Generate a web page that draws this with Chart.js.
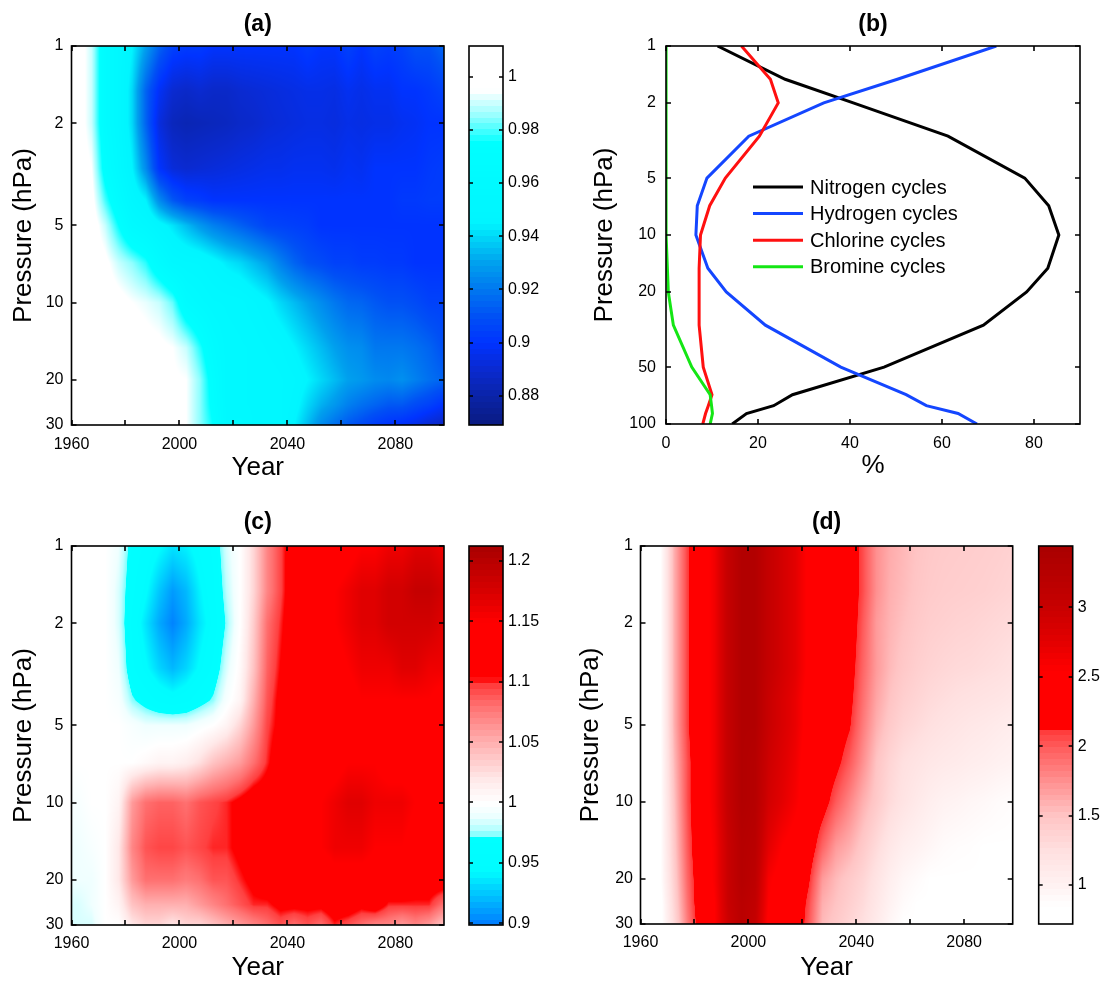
<!DOCTYPE html>
<html>
<head>
<meta charset="utf-8">
<title>Stratospheric ozone panels</title>
<script src="https://cdn.jsdelivr.net/npm/chart.js@4.4.1/dist/chart.umd.min.js"></script>
<style>
  html, body { margin: 0; background: #fff; }
  #fig { position: relative; width: 1104px; height: 981px; overflow: hidden; }
  #fig canvas { position: absolute; }
</style>
</head>
<body>
<div id="fig">
  <canvas id="panelA" width="560" height="490" style="left:0;top:0"></canvas>
  <canvas id="panelB" width="544" height="490" style="left:560px;top:0"></canvas>
  <canvas id="panelC" width="560" height="491" style="left:0;top:490px"></canvas>
  <canvas id="panelD" width="544" height="491" style="left:560px;top:490px"></canvas>
</div>
<script>
// ---- shared axes ----
const yearEdges = [1960, 1965, 1970, 1975, 1980, 1985, 1990, 1995, 2000, 2005, 2010, 2015, 2020, 2025,
                   2030, 2035, 2040, 2045, 2050, 2055, 2060, 2065, 2070, 2075, 2080, 2085, 2090, 2095, 2100];
const pressureLevels = [1, 1.5, 2, 3, 4, 5, 7, 10, 15, 20, 25, 30];
const yearTicks = [1960, 1980, 2000, 2020, 2040, 2060, 2080];
const yearLabels = [1960, 2000, 2040, 2080];
const pressureTicks = [1, 2, 5, 10, 20, 30];

// ---- panel (a): one column per 5-year block, values top (1 hPa) to bottom (30 hPa) ----
const gridA = [
  [1, 1, 1, 1, 1, 1, 1, 1, 1, 1, 1, 1],                                                    // 1960
  [0.99, 0.99, 0.99, 0.995, 0.998, 1, 1, 1, 1, 1, 1, 1],                                    // 1965
  [0.965, 0.965, 0.965, 0.97, 0.98, 0.99, 0.997, 1, 1, 1, 1, 1],                            // 1970
  [0.955, 0.955, 0.955, 0.958, 0.965, 0.975, 0.99, 0.998, 1, 1, 1, 1],                      // 1975
  [0.945, 0.94, 0.94, 0.945, 0.952, 0.96, 0.985, 0.995, 1, 1, 1, 1],                        // 1980
  [0.93, 0.915, 0.915, 0.925, 0.945, 0.955, 0.978, 0.993, 0.998, 1, 1, 1],                  // 1985
  [0.915, 0.898, 0.893, 0.9, 0.925, 0.948, 0.965, 0.99, 0.997, 0.998, 0.998, 1],            // 1990
  [0.905, 0.89, 0.885, 0.892, 0.912, 0.942, 0.955, 0.982, 0.995, 0.996, 0.997, 0.997],      // 1995
  [0.903, 0.888, 0.883, 0.89, 0.905, 0.935, 0.953, 0.965, 0.99, 0.995, 0.995, 0.995],       // 2000
  [0.903, 0.89, 0.884, 0.891, 0.903, 0.928, 0.952, 0.96, 0.978, 0.985, 0.985, 0.985],       // 2005
  [0.9, 0.888, 0.885, 0.892, 0.9, 0.922, 0.948, 0.956, 0.965, 0.97, 0.972, 0.975],          // 2010
  [0.9, 0.888, 0.886, 0.893, 0.9, 0.918, 0.943, 0.955, 0.957, 0.957, 0.957, 0.958],         // 2015
  [0.9, 0.89, 0.888, 0.894, 0.9, 0.914, 0.94, 0.954, 0.956, 0.956, 0.956, 0.96],            // 2020
  [0.9, 0.891, 0.889, 0.895, 0.9, 0.91, 0.935, 0.95, 0.955, 0.955, 0.955, 0.955],           // 2025
  [0.9, 0.892, 0.891, 0.896, 0.9, 0.906, 0.93, 0.946, 0.952, 0.955, 0.955, 0.955],          // 2030
  [0.9, 0.893, 0.892, 0.896, 0.9, 0.905, 0.922, 0.94, 0.95, 0.953, 0.953, 0.953],           // 2035
  [0.9, 0.894, 0.893, 0.897, 0.9, 0.904, 0.915, 0.935, 0.945, 0.95, 0.948, 0.945],          // 2040
  [0.903, 0.895, 0.894, 0.897, 0.9, 0.903, 0.91, 0.93, 0.94, 0.945, 0.94, 0.935],           // 2045
  [0.9, 0.895, 0.894, 0.897, 0.9, 0.9, 0.908, 0.925, 0.935, 0.94, 0.933, 0.925],            // 2050
  [0.9, 0.894, 0.893, 0.896, 0.9, 0.9, 0.905, 0.92, 0.93, 0.935, 0.928, 0.918],             // 2055
  [0.905, 0.897, 0.895, 0.898, 0.9, 0.9, 0.905, 0.916, 0.926, 0.93, 0.922, 0.912],          // 2060
  [0.9, 0.895, 0.894, 0.897, 0.9, 0.9, 0.903, 0.915, 0.925, 0.928, 0.918, 0.908],           // 2065
  [0.905, 0.897, 0.895, 0.9, 0.9, 0.9, 0.903, 0.912, 0.92, 0.925, 0.915, 0.903],            // 2070
  [0.903, 0.897, 0.895, 0.9, 0.9, 0.9, 0.902, 0.91, 0.92, 0.924, 0.912, 0.9],               // 2075
  [0.905, 0.9, 0.897, 0.9, 0.902, 0.9, 0.902, 0.91, 0.92, 0.926, 0.912, 0.898],             // 2080
  [0.91, 0.9, 0.898, 0.9, 0.902, 0.9, 0.9, 0.908, 0.918, 0.922, 0.908, 0.895],              // 2085
  [0.91, 0.902, 0.9, 0.902, 0.903, 0.9, 0.9, 0.905, 0.915, 0.918, 0.905, 0.89],             // 2090
  [0.915, 0.905, 0.9, 0.903, 0.903, 0.9, 0.9, 0.905, 0.91, 0.915, 0.9, 0.887]               // 2095
];
const cbTicksA = [0.88, 0.9, 0.92, 0.94, 0.96, 0.98, 1];

// ---- panel (b): share of each catalytic cycle (%) by pressure ----
const pressureB = [1, 1.5, 2, 3, 5, 7, 10, 15, 20, 30, 50, 70, 80, 88, 100];
const nitrogen = [11.2, 25.9, 40.7, 61.3, 78, 83.2, 85.4, 83, 78.4, 69, 47.4, 27.5, 23.4, 17.5, 14.4];
const hydrogen = [71.8, 50.3, 34.3, 18, 8.9, 6.8, 6.5, 9.1, 13.1, 21.6, 38, 52.2, 56.6, 63.5, 67.6];
const chlorine = [16.4, 22.7, 24.4, 20.3, 12.9, 9.5, 7.5, 7.2, 7.2, 7.2, 8.1, 10, 9.2, 8.6, 8.0];
const bromine = [0, 0, 0, 0, 0, 0, 0.1, 0.3, 0.5, 1.6, 5.6, 9.6, 9.9, 10.1, 9.6];
const percentTicks = [0, 20, 40, 60, 80];
const pressureTicksB = [1, 2, 5, 10, 20, 50, 100];

// ---- panel (c) ----
const gridC = [
  [1, 1, 1, 1, 1, 1, 1, 0.995, 0.99, 0.99, 0.985, 0.985],                 // 1960
  [1, 1, 1, 1, 1, 1, 1, 1, 0.995, 0.99, 0.99, 0.985],                     // 1965
  [1, 1, 1, 1, 1, 1, 1, 1, 1, 1, 1, 1],                                   // 1970
  [0.99, 0.985, 0.985, 0.99, 0.995, 1, 1, 1.01, 1.02, 1.02, 1.01, 1.0],   // 1975
  [0.965, 0.96, 0.955, 0.96, 0.975, 0.995, 1.0, 1.06, 1.07, 1.06, 1.04, 1.02],      // 1980
  [0.955, 0.945, 0.935, 0.945, 0.965, 0.99, 1.005, 1.08, 1.09, 1.08, 1.05, 1.03],   // 1985
  [0.945, 0.925, 0.915, 0.93, 0.955, 0.99, 1.01, 1.085, 1.095, 1.08, 1.05, 1.03],   // 1990
  [0.935, 0.91, 0.902, 0.92, 0.95, 0.99, 1.01, 1.085, 1.095, 1.08, 1.05, 1.02],     // 1995
  [0.94, 0.92, 0.915, 0.93, 0.955, 0.99, 1.015, 1.08, 1.09, 1.075, 1.05, 1.03],     // 2000
  [0.95, 0.94, 0.935, 0.945, 0.965, 0.995, 1.025, 1.09, 1.095, 1.08, 1.06, 1.03],   // 2005
  [0.96, 0.955, 0.95, 0.96, 0.975, 1.0, 1.04, 1.095, 1.1, 1.09, 1.07, 1.04],        // 2010
  [0.985, 0.98, 0.975, 0.985, 0.995, 1.01, 1.05, 1.1, 1.1, 1.09, 1.08, 1.05],       // 2015
  [1.0, 1.0, 1.0, 1.005, 1.01, 1.03, 1.06, 1.11, 1.11, 1.1, 1.09, 1.06],            // 2020
  [1.03, 1.03, 1.035, 1.04, 1.05, 1.06, 1.08, 1.12, 1.12, 1.11, 1.1, 1.07],         // 2025
  [1.07, 1.07, 1.08, 1.085, 1.09, 1.095, 1.1, 1.12, 1.12, 1.12, 1.1, 1.08],         // 2030
  [1.095, 1.095, 1.1, 1.105, 1.11, 1.11, 1.12, 1.13, 1.13, 1.12, 1.11, 1.09],       // 2035
  [1.12, 1.12, 1.12, 1.12, 1.12, 1.12, 1.13, 1.13, 1.13, 1.12, 1.11, 1.08],         // 2040
  [1.12, 1.13, 1.13, 1.13, 1.12, 1.12, 1.13, 1.14, 1.14, 1.13, 1.11, 1.09],         // 2045
  [1.13, 1.14, 1.14, 1.13, 1.13, 1.13, 1.14, 1.15, 1.15, 1.13, 1.11, 1.08],         // 2050
  [1.13, 1.15, 1.15, 1.14, 1.13, 1.13, 1.14, 1.16, 1.16, 1.14, 1.12, 1.1],          // 2055
  [1.14, 1.16, 1.16, 1.15, 1.14, 1.14, 1.15, 1.17, 1.16, 1.14, 1.12, 1.09],         // 2060
  [1.15, 1.17, 1.17, 1.16, 1.15, 1.14, 1.15, 1.17, 1.16, 1.14, 1.11, 1.08],         // 2065
  [1.15, 1.17, 1.17, 1.16, 1.15, 1.14, 1.15, 1.16, 1.15, 1.14, 1.12, 1.07],         // 2070
  [1.16, 1.18, 1.18, 1.16, 1.15, 1.14, 1.14, 1.16, 1.15, 1.13, 1.1, 1.07],          // 2075
  [1.16, 1.18, 1.18, 1.17, 1.15, 1.14, 1.14, 1.16, 1.15, 1.13, 1.1, 1.06],          // 2080
  [1.17, 1.19, 1.18, 1.17, 1.15, 1.14, 1.14, 1.15, 1.14, 1.12, 1.1, 1.07],          // 2085
  [1.17, 1.19, 1.18, 1.16, 1.15, 1.13, 1.13, 1.15, 1.14, 1.12, 1.1, 1.06],          // 2090
  [1.16, 1.18, 1.17, 1.16, 1.14, 1.13, 1.13, 1.14, 1.13, 1.12, 1.08, 1.04]          // 2095
];
const cbTicksC = [0.9, 0.95, 1, 1.05, 1.1, 1.15, 1.2];

// ---- panel (d) ----
const gridD = [
  [0.8, 0.8, 0.8, 0.8, 0.8, 0.8, 0.8, 0.8, 0.8, 0.8, 0.8, 0.8],                   // 1960
  [0.85, 0.85, 0.85, 0.85, 0.85, 0.85, 0.85, 0.85, 0.85, 0.85, 0.8, 0.8],         // 1965
  [1.6, 1.6, 1.6, 1.6, 1.6, 1.6, 1.55, 1.5, 1.45, 1.4, 1.35, 1.3],                // 1970
  [2.1, 2.1, 2.1, 2.1, 2.1, 2.1, 2.05, 2.05, 2.0, 1.95, 1.9, 1.85],               // 1975
  [2.4, 2.4, 2.4, 2.4, 2.4, 2.4, 2.4, 2.4, 2.4, 2.35, 2.35, 2.3],                  // 1980
  [2.65, 2.65, 2.65, 2.65, 2.65, 2.65, 2.65, 2.65, 2.6, 2.6, 2.55, 2.55],         // 1985
  [3.05, 3.05, 3.05, 3.05, 3.05, 3.05, 3.05, 3.05, 3.0, 3.0, 3.0, 2.95],          // 1990
  [3.3, 3.3, 3.3, 3.3, 3.3, 3.3, 3.3, 3.3, 3.25, 3.25, 3.2, 3.2],                 // 1995
  [3.3, 3.3, 3.3, 3.3, 3.3, 3.3, 3.25, 3.25, 3.2, 3.15, 3.1, 3.05],               // 2000
  [3.05, 3.05, 3.05, 3.05, 3.0, 3.0, 2.95, 2.9, 2.75, 2.6, 2.55, 2.5],            // 2005
  [2.9, 2.9, 2.9, 2.9, 2.85, 2.85, 2.8, 2.75, 2.55, 2.45, 2.4, 2.4],              // 2010
  [2.75, 2.75, 2.75, 2.75, 2.7, 2.7, 2.65, 2.6, 2.45, 2.4, 2.35, 2.35],           // 2015
  [2.5, 2.5, 2.5, 2.5, 2.45, 2.45, 2.4, 2.4, 2.3, 2.15, 2.05, 2.0],               // 2020
  [2.4, 2.4, 2.4, 2.4, 2.4, 2.4, 2.35, 2.25, 1.95, 1.7, 1.6, 1.55],               // 2025
  [2.35, 2.35, 2.35, 2.35, 2.35, 2.3, 2.2, 2.0, 1.7, 1.55, 1.5, 1.45],            // 2030
  [2.3, 2.3, 2.3, 2.25, 2.2, 2.15, 2.0, 1.8, 1.6, 1.45, 1.4, 1.35],               // 2035
  [2.05, 2.05, 2.0, 1.95, 1.9, 1.85, 1.75, 1.6, 1.45, 1.35, 1.3, 1.25],           // 2040
  [1.75, 1.75, 1.7, 1.7, 1.65, 1.6, 1.5, 1.45, 1.3, 1.2, 1.15, 1.1],              // 2045
  [1.62, 1.6, 1.58, 1.55, 1.5, 1.45, 1.35, 1.3, 1.15, 1.05, 1.0, 0.95],           // 2050
  [1.56, 1.54, 1.51, 1.46, 1.4, 1.35, 1.25, 1.2, 1.05, 0.95, 0.9, 0.85],          // 2055
  [1.5, 1.48, 1.45, 1.4, 1.35, 1.3, 1.2, 1.12, 1.0, 0.9, 0.85, 0.85],             // 2060
  [1.46, 1.44, 1.41, 1.36, 1.3, 1.25, 1.15, 1.05, 0.95, 0.85, 0.85, 0.85],        // 2065
  [1.44, 1.42, 1.39, 1.33, 1.27, 1.21, 1.12, 1.0, 0.9, 0.85, 0.85, 0.85],         // 2070
  [1.43, 1.41, 1.37, 1.31, 1.24, 1.18, 1.1, 0.98, 0.88, 0.85, 0.85, 0.85],        // 2075
  [1.42, 1.4, 1.36, 1.3, 1.22, 1.15, 1.07, 0.95, 0.87, 0.85, 0.85, 0.85],         // 2080
  [1.41, 1.39, 1.34, 1.28, 1.2, 1.13, 1.05, 0.93, 0.85, 0.85, 0.85, 0.85],        // 2085
  [1.4, 1.37, 1.32, 1.26, 1.18, 1.1, 1.02, 0.9, 0.85, 0.85, 0.85, 0.85],          // 2090
  [1.38, 1.35, 1.3, 1.23, 1.15, 1.07, 1.0, 0.88, 0.85, 0.85, 0.85, 0.85]          // 2095
];
const cbTicksD = [1, 1.5, 2, 2.5, 3];

// ---- colour maps (value, colour) ----
const blueMap = [
  [0.869, '#0a1a80'], [0.878, '#0a22a0'], [0.89, '#0a2ad0'], [0.9, '#0033ff'], [0.91, '#0050f5'],
  [0.92, '#0078f0'], [0.93, '#00a0ee'], [0.94, '#00d8f8'], [0.945, '#00f5ff'], [0.975, '#00ffff'],
  [0.985, '#90ffff'], [0.995, '#ffffff'], [1.012, '#ffffff']
];
const coolWarmMap = [
  [0.8985, '#0078ff'], [0.905, '#008cff'], [0.92, '#00b8ff'], [0.935, '#00e4ff'], [0.943, '#00fcff'],
  [0.972, '#00ffff'], [0.973, '#80ffff'], [0.98, '#c0ffff'], [0.99, '#f0ffff'], [1.0, '#ffffff'],
  [1.02, '#ffe8e8'], [1.05, '#ffb0b0'], [1.08, '#ff7070'], [1.097, '#ff4040'], [1.104, '#ff0000'],
  [1.15, '#ff0000'], [1.175, '#d80000'], [1.2, '#b80000'], [1.2125, '#a80000']
];
const redMap = [
  [0.72, '#ffffff'], [0.85, '#ffffff'], [1.0, '#fff2f2'], [1.25, '#ffe0e0'], [1.5, '#ffc4c4'],
  [1.75, '#ff9090'], [2.0, '#ff5a5a'], [2.12, '#ff3838'], [2.13, '#ff0000'], [2.55, '#ff0000'],
  [2.76, '#e20000'], [3.0, '#c80000'], [3.44, '#a80000']
];

function hexToRgb(h) {
  const n = parseInt(h.slice(1), 16);
  return [(n >> 16) & 255, (n >> 8) & 255, n & 255];
}

function rgbAt(stops, v) {
  if (v <= stops[0][0]) return hexToRgb(stops[0][1]);
  for (let i = 1; i < stops.length; i++) {
    if (v <= stops[i][0]) {
      const [v0, c0] = stops[i - 1];
      const [v1, c1] = stops[i];
      const t = (v - v0) / (v1 - v0);
      const a = hexToRgb(c0), b = hexToRgb(c1);
      return a.map((x, k) => Math.round(x + (b[k] - x) * t));
    }
  }
  return hexToRgb(stops[stops.length - 1][1]);
}

function colorAt(stops, v) {
  return 'rgb(' + rgbAt(stops, v).join(',') + ')';
}

// index of the lower node and the fraction towards the next one
function bracket(nodes, v) {
  const last = nodes.length - 1;
  if (v <= nodes[0]) return [0, 0];
  if (v >= nodes[last]) return [last - 1, 1];
  let k = 0;
  while (nodes[k + 1] < v) k++;
  return [k, (v - nodes[k]) / (nodes[k + 1] - nodes[k])];
}

Chart.defaults.font.family = '"Liberation Sans", Arial, Helvetica, sans-serif';
Chart.defaults.font.size = 16;
Chart.defaults.color = '#000';
Chart.defaults.animation = false;

const FONT = '"Liberation Sans", Arial, Helvetica, sans-serif';
const titleFont = { size: 26, lineHeight: 1 };
const noGrid = { display: false, drawTicks: false };

// shaded year x pressure field; every pixel is mapped back to data space with the chart's scales
function heatLayer(grid, stops) {
  const yearNodes = yearEdges.slice(0, -1).map((e, i) => (e + yearEdges[i + 1]) / 2);
  const logNodes = pressureLevels.map(p => Math.log10(p));
  return {
    id: 'heat',
    beforeDatasetsDraw(chart) {
      const { ctx, chartArea: a, scales: { x, y } } = chart;
      const left = Math.round(a.left), top = Math.round(a.top);
      const w = Math.round(a.right) - left, h = Math.round(a.bottom) - top;
      const off = document.createElement('canvas');
      off.width = w; off.height = h;
      const octx = off.getContext('2d');
      const img = octx.createImageData(w, h);
      const cols = [];
      for (let i = 0; i < w; i++) cols.push(bracket(yearNodes, x.getValueForPixel(left + i + 0.5)));
      for (let r = 0; r < h; r++) {
        const [j, ty] = bracket(logNodes, Math.log10(y.getValueForPixel(top + r + 0.5)));
        for (let i = 0; i < w; i++) {
          const [k, tx] = cols[i];
          const c0 = grid[k], c1 = grid[k + 1];
          const upper = c0[j] + (c1[j] - c0[j]) * tx;
          const lower = c0[j + 1] + (c1[j + 1] - c0[j + 1]) * tx;
          const rgb = rgbAt(stops, upper + (lower - upper) * ty);
          const o = (r * w + i) * 4;
          img.data[o] = rgb[0]; img.data[o + 1] = rgb[1]; img.data[o + 2] = rgb[2]; img.data[o + 3] = 255;
        }
      }
      octx.putImageData(img, 0, 0);
      ctx.drawImage(off, left, top);
    }
  };
}

// box, inward ticks, panel letter and optional colour bar
function frameLayer(o) {
  return {
    id: 'frame',
    afterDraw(chart) {
      const { ctx, chartArea: a, scales } = chart;
      const tl = 5;
      ctx.save();
      ctx.strokeStyle = '#000';
      ctx.lineWidth = 1.6;
      ctx.beginPath();
      scales.x.ticks.forEach(t => {
        const px = Math.round(scales.x.getPixelForValue(t.value));
        ctx.moveTo(px, a.bottom); ctx.lineTo(px, a.bottom - tl);
        ctx.moveTo(px, a.top); ctx.lineTo(px, a.top + tl);
      });
      scales.y.ticks.forEach(t => {
        const py = Math.round(scales.y.getPixelForValue(t.value));
        ctx.moveTo(a.left, py); ctx.lineTo(a.left + tl, py);
        ctx.moveTo(a.right, py); ctx.lineTo(a.right - tl, py);
      });
      ctx.stroke();
      ctx.strokeRect(a.left, a.top, a.right - a.left, a.bottom - a.top);

      if (o.bar) {
        const cb = scales.cb;
        const bx = a.right + o.bar.gap, bw = o.bar.width;
        const steps = 64, dv = (cb.max - cb.min) / steps;
        for (let i = 0; i < steps; i++) {
          const v0 = cb.min + i * dv, v1 = v0 + dv;
          const yTop = Math.floor(cb.getPixelForValue(v1));
          const yBot = Math.ceil(cb.getPixelForValue(v0));
          ctx.fillStyle = colorAt(o.bar.stops, (v0 + v1) / 2);
          ctx.fillRect(bx, yTop, bw, yBot - yTop);
        }
        ctx.strokeRect(bx, cb.top, bw, cb.bottom - cb.top);
        ctx.beginPath();
        cb.ticks.forEach(t => {
          const py = Math.round(cb.getPixelForValue(t.value));
          ctx.moveTo(bx, py); ctx.lineTo(bx + 4, py);
          ctx.moveTo(bx + bw, py); ctx.lineTo(bx + bw - 4, py);
        });
        ctx.stroke();
      }

      ctx.fillStyle = '#000';
      ctx.font = 'bold 23px ' + FONT;
      ctx.textAlign = 'center';
      ctx.textBaseline = 'middle';
      ctx.fillText(o.title, (a.left + a.right) / 2, o.titleY);
      ctx.restore();
    }
  };
}

// vertical scales: fixed width, and no label overhang pushed into the layout
function fixWidth(width) {
  return s => { s.width = width; s.paddingTop = 0; s.paddingBottom = 0; };
}

function heatmap(id, o) {
  return new Chart(document.getElementById(id), {
    type: 'scatter',
    data: { datasets: [] },
    options: {
      responsive: false,
      layout: { padding: { top: o.top, left: 0, right: 0, bottom: 0 } },
      plugins: { legend: { display: false }, tooltip: { enabled: false } },
      scales: {
        x: {
          type: 'linear', min: 1960, max: 2098,
          grid: noGrid, border: { display: false },
          afterBuildTicks: s => { s.ticks = yearTicks.map(v => ({ value: v })); },
          afterFit: s => { s.height = o.xHeight; },
          ticks: { autoSkip: false, maxRotation: 0, padding: o.xPad,
                   callback: v => yearLabels.includes(v) ? String(v) : '' },
          title: { display: true, text: 'Year', font: titleFont, padding: { top: 0, bottom: o.xTitlePad } }
        },
        y: {
          type: 'logarithmic', position: 'left', reverse: true, min: 1, max: 30,
          grid: noGrid, border: { display: false },
          afterBuildTicks: s => { s.ticks = pressureTicks.map(v => ({ value: v })); },
          afterFit: fixWidth(o.yWidth),
          ticks: { autoSkip: false, padding: o.yPad, callback: v => String(v) },
          title: { display: true, text: 'Pressure (hPa)', font: titleFont, padding: { top: o.yTitlePad, bottom: 0 } }
        },
        cb: {
          type: 'linear', position: 'right', min: o.cbMin, max: o.cbMax,
          grid: noGrid, border: { display: false },
          afterBuildTicks: s => { s.ticks = o.cbTicks.map(v => ({ value: v })); },
          afterFit: fixWidth(o.cbWidth),
          ticks: { autoSkip: false, padding: o.cbPad, callback: v => String(v) }
        }
      }
    },
    plugins: [heatLayer(o.grid, o.stops),
              frameLayer({ title: o.title, titleY: o.titleY, bar: { gap: o.barGap, width: 34, stops: o.stops } })]
  });
}

heatmap('panelA', {
  grid: gridA, stops: blueMap, title: '(a)', titleY: 25,
  top: 46, xHeight: 65, xPad: 10, xTitlePad: 9, yWidth: 71.5, yPad: 8, yTitlePad: 11,
  cbMin: 0.869, cbMax: 1.0115, cbTicks: cbTicksA, cbWidth: 116, cbPad: 64, barGap: 25
});

heatmap('panelC', {
  grid: gridC, stops: coolWarmMap, title: '(c)', titleY: 33,
  top: 56, xHeight: 56, xPad: 9, xTitlePad: 0, yWidth: 71.5, yPad: 8, yTitlePad: 11,
  cbMin: 0.8985, cbMax: 1.2125, cbTicks: cbTicksC, cbWidth: 116, cbPad: 64, barGap: 25
});

heatmap('panelD', {
  grid: gridD, stops: redMap, title: '(d)', titleY: 33,
  top: 56, xHeight: 57, xPad: 9, xTitlePad: 0, yWidth: 80.5, yPad: 7.5, yTitlePad: 18,
  cbMin: 0.72, cbMax: 3.44, cbTicks: cbTicksD, cbWidth: 91.3, cbPad: 65, barGap: 26
});

// ---- panel (b): line profiles ----
const cycles = [
  { label: 'Nitrogen cycles', values: nitrogen, color: '#000000', order: 3 },
  { label: 'Hydrogen cycles', values: hydrogen, color: '#1446ff', order: 2 },
  { label: 'Chlorine cycles', values: chlorine, color: '#ff1010', order: 1 },
  { label: 'Bromine cycles', values: bromine, color: '#14e614', order: 0 }
];

const legendBox = {
  id: 'legendBox',
  afterDraw(chart) {
    const { ctx, chartArea: a } = chart;
    const left = a.left + 77, top = a.top + 130;
    ctx.save();
    ctx.fillStyle = '#fff';
    ctx.fillRect(left, top, 219, 100);
    ctx.font = '20px ' + FONT;
    ctx.textAlign = 'left';
    ctx.textBaseline = 'middle';
    chart.data.datasets.forEach((ds, i) => {
      const y = top + 12 + i * 26.6;
      ctx.strokeStyle = ds.borderColor;
      ctx.lineWidth = 3;
      ctx.beginPath();
      ctx.moveTo(left + 10, y - 1);
      ctx.lineTo(left + 60, y - 1);
      ctx.stroke();
      ctx.fillStyle = '#000';
      ctx.fillText(ds.label, left + 67, y);
    });
    ctx.restore();
  }
};

new Chart(document.getElementById('panelB'), {
  type: 'scatter',
  data: {
    datasets: cycles.map(c => ({
      label: c.label,
      data: c.values.map((v, i) => ({ x: v, y: pressureB[i] })),
      borderColor: c.color,
      backgroundColor: c.color,
      showLine: true,
      fill: false,
      order: c.order
    }))
  },
  options: {
    responsive: false,
    layout: { padding: { top: 46, right: 24, left: 0, bottom: 0 } },
    plugins: { legend: { display: false }, tooltip: { enabled: false } },
    elements: { point: { radius: 0 }, line: { borderWidth: 3, tension: 0 } },
    scales: {
      x: {
        type: 'linear', min: 0, max: 90,
        grid: noGrid, border: { display: false },
        afterBuildTicks: s => { s.ticks = percentTicks.map(v => ({ value: v })); },
        afterFit: s => { s.height = 66; },
        ticks: { autoSkip: false, maxRotation: 0, padding: 10, callback: v => String(v) },
        title: { display: true, text: '%', font: titleFont, padding: { top: 0, bottom: 11 } }
      },
      y: {
        type: 'logarithmic', reverse: true, min: 1, max: 100,
        grid: noGrid, border: { display: false },
        afterBuildTicks: s => { s.ticks = pressureTicksB.map(v => ({ value: v })); },
        afterFit: fixWidth(106),
        ticks: { autoSkip: false, padding: 10, callback: v => String(v) },
        title: { display: true, text: 'Pressure (hPa)', font: titleFont, padding: { top: 32, bottom: 0 } }
      }
    }
  },
  plugins: [frameLayer({ title: '(b)', titleY: 25 }), legendBox]
});
</script>
</body>
</html>
